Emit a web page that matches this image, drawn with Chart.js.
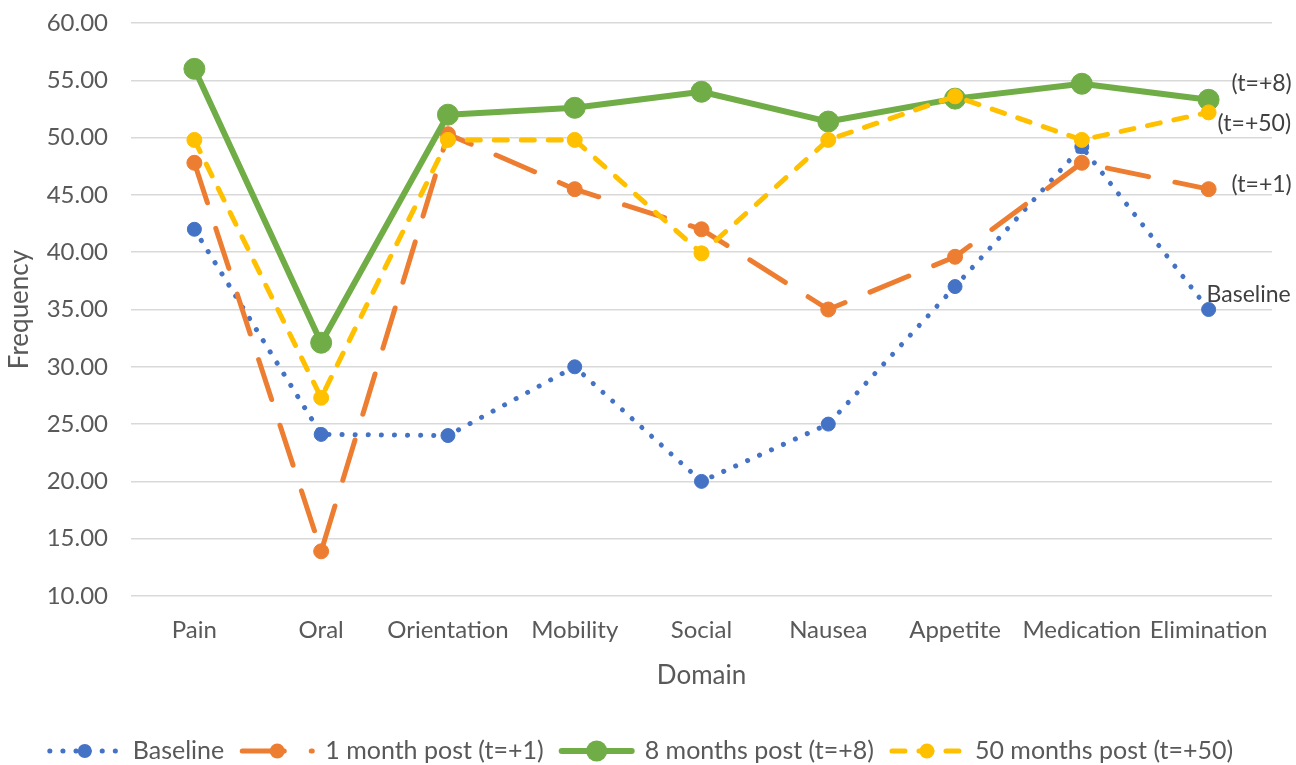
<!DOCTYPE html>
<html><head><meta charset="utf-8">
<script src="https://cdn.jsdelivr.net/npm/chart.js@4"></script>
<style>html,body{margin:0;padding:0;background:#fff}#wrap{width:1296px;height:765px}</style>
</head><body><div id="wrap"><canvas id="c" width="1296" height="765"></canvas></div>
<script>
const categories = ['Pain','Oral','Orientation','Mobility','Social','Nausea','Appetite','Medication','Elimination'];
const baseline = [42.0, 24.1, 24.0, 30.0, 20.0, 25.0, 37.0, 49.2, 35.0];
const month1   = [47.8, 13.9, 50.3, 45.5, 42.0, 35.0, 39.6, 47.8, 45.5];
const month8   = [56.0, 32.1, 52.0, 52.6, 54.0, 51.4, 53.4, 54.7, 53.3];
const month50  = [49.8, 27.3, 49.8, 49.8, 39.9, 49.8, 53.6, 49.8, 52.2];
const seriesNames = ['Baseline', '1 month post (t=+1)', '8 months post (t=+8)', '50 months post (t=+50)'];
const endLabels = ['Baseline', '(t=+1)', '(t=+8)', '(t=+50)'];
const yMin = 10, yMax = 60, yStep = 5;

const F = "Lato, 'Open Sans', 'Liberation Sans', sans-serif";
const TXT = '#595959';

const styles = [
  {color:'#4472C4', width:5, dash:[0.1, 13], radius:7},
  {color:'#ED7D31', width:5, dash:[42, 27], radius:7.5},
  {color:'#70AD47', width:6, dash:[], radius:10.5},
  {color:'#FFC000', width:5, dash:[13, 14], radius:7.5}
];
const labelPos = [
  {dx:-2, dy:-15}, {dx:23, dy:-5}, {dx:23, dy:-16}, {dx:9, dy:11}
];
const values = [baseline, month1, month8, month50];

const datasets = values.map((v, i) => ({
  label: seriesNames[i],
  data: v,
  borderColor: styles[i].color,
  backgroundColor: styles[i].color,
  borderWidth: styles[i].width,
  borderDash: styles[i].dash,
  borderCapStyle: 'round',
  borderJoinStyle: 'round',
  pointRadius: styles[i].radius,
  pointBorderWidth: 1,
  pointBackgroundColor: styles[i].color,
  pointBorderColor: styles[i].color,
  tension: 0,
  fill: false,
  order: 4 - i
}));

const endLabelPlugin = {
  id: 'endLabels',
  afterDatasetsDraw(chart) {
    const ctx = chart.ctx;
    ctx.save();
    ctx.font = '23px ' + F;
    ctx.fillStyle = '#404040';
    ctx.textAlign = 'left';
    ctx.textBaseline = 'middle';
    chart.data.datasets.forEach((ds, i) => {
      const meta = chart.getDatasetMeta(i);
      const pt = meta.data[meta.data.length - 1];
      ctx.fillText(endLabels[i], pt.x + labelPos[i].dx, pt.y + labelPos[i].dy);
    });
    ctx.restore();
  }
};

const legendPlugin = {
  id: 'customLegend',
  afterDraw(chart) {
    const ctx = chart.ctx;
    ctx.save();
    ctx.font = '25px ' + F;
    const sample = 76, gapText = 10, gapItem = 15;
    const widths = seriesNames.map(n => ctx.measureText(n).width);
    let total = 0;
    widths.forEach((w, i) => { total += sample + gapText + w + (i < widths.length - 1 ? gapItem : 0); });
    let x = 640 - total / 2;
    const y = 751;
    seriesNames.forEach((n, i) => {
      const s = styles[i];
      ctx.strokeStyle = s.color;
      ctx.lineWidth = s.width;
      ctx.lineCap = 'round';
      ctx.setLineDash(s.dash);
      ctx.beginPath();
      ctx.moveTo(x + 3, y);
      ctx.lineTo(x + sample - 3, y);
      ctx.stroke();
      ctx.setLineDash([]);
      ctx.fillStyle = s.color;
      ctx.beginPath();
      ctx.arc(x + sample / 2, y, s.radius, 0, Math.PI * 2);
      ctx.fill();
      ctx.fillStyle = TXT;
      ctx.textAlign = 'left';
      ctx.textBaseline = 'middle';
      ctx.fillText(n, x + sample + gapText, y);
      x += sample + gapText + widths[i] + gapItem;
    });
    ctx.restore();
  }
};

new Chart(document.getElementById('c'), {
  type: 'line',
  data: { labels: categories, datasets },
  options: {
    responsive: false,
    animation: false,
    layout: { padding: { top: 23, right: 24, bottom: 70, left: 4 } },
    plugins: { legend: { display: false }, tooltip: { enabled: false } },
    scales: {
      x: {
        offset: true,
        grid: { display: false, drawTicks: false },
        border: { display: false },
        ticks: { color: TXT, font: { size: 24, family: F }, padding: 20, maxRotation: 0, autoSkip: false },
        title: { display: true, text: 'Domain', color: TXT, font: { size: 26, family: F }, padding: { top: 4, bottom: 4 } },
        afterFit(s) { s.height = 99; }
      },
      y: {
        min: yMin, max: yMax,
        ticks: { stepSize: yStep, callback: v => Number(v).toFixed(2), color: TXT, font: { size: 24, family: F }, padding: 23 },
        grid: { color: '#D9D9D9', lineWidth: 1.5, drawTicks: false },
        border: { display: false },
        title: { display: true, text: 'Frequency', color: TXT, font: { size: 26, family: F }, padding: { top: 0, bottom: 2 } },
        afterFit(s) { s.width = 127; s.paddingTop = 0; s.paddingBottom = 0; }
      }
    }
  },
  plugins: [endLabelPlugin, legendPlugin]
});
</script>
</body></html>
